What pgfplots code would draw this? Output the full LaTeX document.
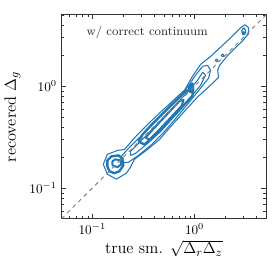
\documentclass[border=0pt]{standalone}
\usepackage{pgfplots}
\pgfplotsset{compat=1.18}
\definecolor{cblue}{HTML}{1F77B4}
\begin{document}
\begin{tikzpicture}
\begin{axis}[
  scale only axis, width=155pt, height=154.5pt,
  xmode=log, ymode=log,
  xmin=0.05, xmax=5, ymin=0.05, ymax=5,
  xtick={0.1,1}, ytick={0.1,1},
  minor xtick={0.06,0.07,0.08,0.09,0.2,0.3,0.4,0.5,0.6,0.7,0.8,0.9,2,3,4,5},
  minor ytick={0.06,0.07,0.08,0.09,0.2,0.3,0.4,0.5,0.6,0.7,0.8,0.9,2,3,4,5},
  tick label style={font=\fontsize{10}{12}\selectfont},
  label style={font=\fontsize{12.4}{14}\selectfont},
  xlabel={true sm. $\sqrt{\Delta_r\Delta_z}$},
  ylabel={recovered $\Delta_g$},
  xlabel style={yshift=2pt},
  axis line style={black!80, line width=0.6pt},
  major tick length=3.5pt, minor tick length=2pt,
  tick style={black!80},
  line join=round,
]
% outermost thin contour
\addplot[cblue, line width=0.8pt] coordinates {
(0.172,0.1223) (0.1403,0.1368) (0.128,0.171) (0.1403,0.2138) (0.176,0.234)
(0.206,0.239) (0.276,0.334) (0.4055,0.489) (0.582,0.684) (0.798,0.915)
(0.956,1.251) (1.145,1.635) (1.282,1.788) (1.435,1.955) (2.106,2.797)
(2.825,3.74) (3.09,4.0) (3.38,3.74) (3.38,3.27) (2.956,2.797)
(2.106,2.0) (1.758,1.599) (1.681,1.43) (1.718,1.223) (1.435,1.023)
(1.070,0.782) (0.854,0.612) (0.582,0.400) (0.454,0.299) (0.346,0.239)
(0.258,0.1912) (0.236,0.160) (0.2155,0.140) (0.172,0.1223)};
% second thin contour
\addplot[cblue, line width=0.8pt] coordinates {
(0.188,0.2) (0.2205,0.239) (0.2955,0.320) (0.4337,0.4677) (0.6085,0.669)
(0.816,0.915) (1.023,1.279) (1.198,1.564) (1.341,1.599) (1.435,1.43)
(1.371,1.196) (1.145,0.956) (0.873,0.684) (0.637,0.4677) (0.4856,0.342)
(0.3706,0.2615) (0.2825,0.209) (0.2254,0.1788) (0.197,0.1788) (0.188,0.2)};
% third thin contour
\addplot[cblue, line width=0.8pt] coordinates {
(0.236,0.2287) (0.309,0.299) (0.4337,0.4276) (0.6085,0.612) (0.854,0.875)
(1.070,1.143) (1.198,1.367) (1.282,1.279) (1.145,1.023) (0.873,0.731)
(0.637,0.511) (0.4645,0.3575) (0.346,0.2735) (0.264,0.2188) (0.236,0.209)
(0.236,0.2287)};
% thick central ring
\addplot[cblue, line width=1.8pt] coordinates {
(0.2825,0.286) (0.309,0.334) (0.388,0.4276) (0.508,0.5595) (0.681,0.748)
(0.83,0.90) (0.97,0.93) (0.95,0.80) (0.697,0.572) (0.520,0.418)
(0.396,0.320) (0.3235,0.2675) (0.2825,0.286)};
% thick inner ring
\addplot[cblue, line width=1.5pt] coordinates {
(0.331,0.313) (0.4055,0.391) (0.5435,0.535) (0.713,0.715) (0.780,0.731)
(0.746,0.639) (0.569,0.478) (0.4337,0.3575) (0.362,0.299) (0.331,0.313)};
% small blob near 1
\addplot[cblue, line width=1.2pt, fill=cblue] coordinates {
(0.893,1.023) (0.956,1.069) (0.978,0.978) (0.956,0.875) (0.893,0.875)
(0.873,0.935) (0.893,1.023)};
% lower-left blob, thick ring
\addplot[cblue, line width=1.8pt] coordinates {
(0.1468,0.1462) (0.1403,0.1636) (0.1403,0.187) (0.1535,0.2045) (0.180,0.209)
(0.197,0.1955) (0.201,0.167) (0.184,0.1462) (0.1643,0.140) (0.1468,0.1462)};
% lower-left blob, inner ring
\addplot[cblue, line width=1.5pt] coordinates {
(0.157,0.167) (0.157,0.183) (0.168,0.1912) (0.188,0.187) (0.1924,0.171)
(0.176,0.160) (0.157,0.167)};
% small diamonds in the tail
\addplot[cblue, line width=0.8pt] coordinates {
(1.588,1.788) (1.643,1.849) (1.699,1.788) (1.643,1.729) (1.588,1.788)};
\addplot[cblue, line width=0.8pt] coordinates {
(1.819,2.0) (1.882,2.068) (1.946,2.0) (1.882,1.934) (1.819,2.0)};
% tip
\addplot[cblue, line width=0.9pt] coordinates {
(3.02,3.74) (3.162,3.50) (3.09,3.198) (2.956,3.198) (2.89,3.50) (3.02,3.74)};
\addplot[cblue, only marks, mark=*, mark size=1.1pt] coordinates {(3.02,3.33)};
% diagonal
\addplot[gray, dashed, line width=0.7pt] coordinates {(0.05,0.05) (5,5)};
\node[anchor=west, font=\fontsize{9.4}{11}\selectfont, text=black!85] at (rel axis cs:0.10,0.913) {w/ correct continuum};
\end{axis}
\path[use as bounding box] ([shift={(-44.25pt,-39.75pt)}]current axis.south west) rectangle ([shift={(6pt,11.25pt)}]current axis.north east);
\end{tikzpicture}
\end{document}
